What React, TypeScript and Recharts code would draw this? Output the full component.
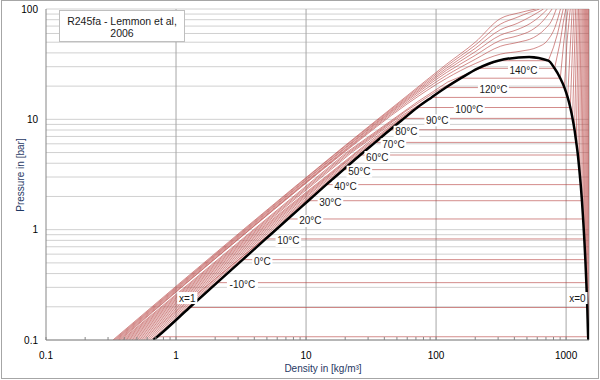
import React from "react";
import { LineChart, Line, XAxis, YAxis, CartesianGrid, ReferenceLine, ReferenceDot } from "recharts";

// R245fa saturation (bar, kg/m3)
const subTemps = [-30, -20, -10, 0, 10, 20, 30, 40, 50, 60, 70, 80, 90, 100, 110, 120, 130, 140, 150];
const satP = [0.107, 0.197, 0.331, 0.535, 0.824, 1.25, 1.83, 2.56, 3.5, 4.75, 6.18, 8.05, 10.2, 12.8, 15.8, 19.4, 23.6, 29.0, 34.0];
const satRhoV = [0.717, 1.27, 2.07, 3.26, 4.89, 7.24, 10.4, 14.3, 19.4, 26.1, 34.0, 44.3, 56.6, 71.8, 92.3, 119, 155, 210, 300];
const satRhoL = [1478, 1455, 1431, 1406, 1380, 1352, 1324, 1295, 1264, 1232, 1197, 1161, 1121, 1077, 1028, 971, 902, 815, 730];
// vapour density where each isotherm leaves the bottom (0.1 bar)
const vapRho0 = [0.663, 0.637, 0.613, 0.59, 0.569, 0.55, 0.532, 0.515, 0.499, 0.484, 0.47, 0.457, 0.444, 0.432, 0.421, 0.41, 0.4, 0.39, 0.381];
// liquid density where each isotherm leaves the top (100 bar)
const liqRho100 = [1498, 1477, 1455, 1432, 1408, 1383, 1357, 1331, 1304, 1276, 1246, 1216, 1184, 1150, 1114, 1076, 1036, 994, 950];
// extra [rho, p] points on the vapour / liquid branches
const vapMid: number[][][] = [
  [], [], [], [], [], [],
  [[5.73, 1]],
  [[5.51, 1]],
  [[5.31, 1]],
  [[5.12, 1]],
  [[4.95, 1], [12.2, 2.38]],
  [[4.79, 1], [15.6, 3.09]],
  [[4.65, 1], [19.9, 4.0]],
  [[4.51, 1], [25.2, 5.1]],
  [[4.39, 1], [31.3, 6.4]],
  [[4.27, 1], [22.4, 5], [38.4, 7.9]],
  [[4.16, 1], [21.7, 5], [47.4, 9.7]],
  [[4.05, 1], [21.05, 5], [58.3, 11.8], [98.3, 17.7]],
  [[3.95, 1], [20.43, 5], [72.5, 14.5], [123, 21.8]],
  [[3.85, 1], [19.9, 5], [87.5, 17.0], [157, 25.5], [220, 30.5]],
];
const liqMid: number[][][] = [
  [], [], [], [], [], [], [], [], [], [], [], [], [], [], [],
  [[1015, 50]],
  [[960, 50], [1000, 75]],
  [[900, 50], [950, 75]],
  [[800, 45], [860, 60], [910, 80]],
];

// supercritical isotherms 160..220 °C
const superTemps = [160, 170, 180, 190, 200, 210, 220];
const superRho = [
  [0.372, 3.7, 20, 60, 120, 200, 313, 450, 600, 720, 820, 905],
  [0.364, 3.66, 20, 60, 120, 200, 313, 430, 560, 680, 780, 840],
  [0.356, 3.58, 20, 60, 120, 200, 313, 420, 540, 650, 780],
  [0.348, 3.5, 20, 60, 120, 200, 313, 420, 530, 630, 720],
  [0.341, 3.43, 20, 60, 120, 200, 313, 420, 540, 670],
  [0.334, 3.36, 20, 60, 120, 200, 313, 420, 520, 625],
  [0.327, 3.29, 20, 60, 120, 200, 313, 430, 585],
];
const superP = [
  [0.1, 1, 5.1, 13.8, 23.5, 32, 39, 41.5, 45, 52, 68, 100],
  [0.1, 1, 5.2, 14.3, 25, 35, 46, 50, 55, 65, 80, 100],
  [0.1, 1, 5.3, 14.8, 26.5, 38, 52, 57, 64, 76, 100],
  [0.1, 1, 5.45, 15.2, 27.8, 41, 58, 65, 74, 86, 100],
  [0.1, 1, 5.55, 15.6, 29, 44, 65, 74, 86, 100],
  [0.1, 1, 5.7, 16, 30.3, 47, 73, 84, 93, 100],
  [0.1, 1, 5.8, 16.4, 31.5, 50, 82, 92, 100],
];

// dome ends and critical point
const domeVapEnd = 0.668;
const domeLiqEnd = 1484;
const critRho = 520;
const critP = 36.8;

// isotherm tags
const tagText = ["-10°C", "0°C", "10°C", "20°C", "30°C", "40°C", "50°C", "60°C", "70°C", "80°C", "90°C", "100°C", "120°C", "140°C"];
const tagRho = [3.24, 4.61, 7.31, 10.8, 15.4, 20.1, 25.7, 35.3, 47.0, 59.1, 102, 180, 276, 470];
const tagP = [0.331, 0.535, 0.824, 1.25, 1.83, 2.56, 3.5, 4.75, 6.18, 8.05, 10.2, 12.8, 19.4, 29.0];
const qualityText = ["x=1", "x=0"];
const qualityRho = [1.22, 1222];
const qualityP = [0.24, 0.24];

const xMajor = [0.1, 1, 10, 100, 1000];
const xTicks = [0.1, 0.2, 0.3, 0.4, 0.5, 0.6, 0.7, 0.8, 0.9, 1, 2, 3, 4, 5, 6, 7, 8, 9, 10, 20, 30, 40, 50, 60, 70, 80, 90, 100, 200, 300, 400, 500, 600, 700, 800, 900, 1000];
const yMajor = [0.1, 1, 10, 100];
const yTicks = [0.1, 0.2, 0.3, 0.4, 0.5, 0.6, 0.7, 0.8, 0.9, 1, 2, 3, 4, 5, 6, 7, 8, 9, 10, 20, 30, 40, 50, 60, 70, 80, 90, 100];

const FONT = "'Liberation Sans', Arial, sans-serif";
const ISO = "#b5403d";
const AXIS = "#868686";
const TITLE = "#1f3864";

type Pt = { rho: number; p: number };
const toPts = (list: number[][]): Pt[] => list.map(([rho, p]) => ({ rho, p }));

const subIsotherms: Pt[][] = subTemps.map((_, i) => [
  { rho: vapRho0[i], p: 0.1 },
  ...toPts(vapMid[i]),
  { rho: satRhoV[i], p: satP[i] },
  { rho: satRhoL[i], p: satP[i] },
  ...toPts(liqMid[i]),
  { rho: liqRho100[i], p: 100 },
]);

const superIsotherms: Pt[][] = superTemps.map((_, i) => superRho[i].map((rho, j) => ({ rho, p: superP[i][j] })));

const dome: Pt[] = [
  { rho: domeVapEnd, p: 0.1 },
  ...satRhoV.map((rho, i) => ({ rho, p: satP[i] })),
  { rho: critRho, p: critP },
  ...satRhoL.map((rho, i) => ({ rho, p: satP[i] })).reverse(),
  { rho: domeLiqEnd, p: 0.1 },
];

function Tag({ cx, cy, text, dy = 0 }: { cx: number; cy: number; text: string; dy?: number }) {
  const w = text.length * 5.4 + 4;
  return (
    <g>
      <rect x={cx - w / 2} y={cy + dy - 6} width={w} height={12} fill="#fff" />
      <text x={cx} y={cy + dy} textAnchor="middle" dominantBaseline="central" fontSize={10} fontFamily={FONT} fill="#1a1a1a">
        {text}
      </text>
    </g>
  );
}

const TICK_SIZE = 6;
const TICK_MARGIN = 6;

function XTick(props: any) {
  const { x, y, payload } = props;
  const axisY = y - TICK_SIZE - TICK_MARGIN;
  const major = xMajor.includes(payload.value);
  return (
    <g>
      <line x1={x} x2={x} y1={axisY} y2={axisY - 3} stroke={AXIS} strokeWidth={1} />
      {major && (
        <text x={x} y={y} dy="0.71em" textAnchor="middle" fontSize={10} fontFamily={FONT} fill="#000">
          {String(payload.value)}
        </text>
      )}
    </g>
  );
}

export default function App() {
  return (
    <div style={{ position: "absolute", left: 0, top: 0, width: 600, height: 380, background: "#fff", fontFamily: FONT }}>
      <LineChart width={600} height={380} margin={{ top: 9, right: 11, bottom: 0, left: 0 }}>
        <CartesianGrid horizontal vertical={false} stroke="#d0d0d0" />
        <XAxis
          dataKey="rho"
          type="number"
          scale="log"
          domain={[0.1, 1500]}
          allowDataOverflow
          ticks={xTicks}
          interval={0}
          height={40}
          tickSize={TICK_SIZE}
          tickMargin={TICK_MARGIN}
          tickLine={false}
          axisLine={{ stroke: AXIS }}
          tick={<XTick />}
        />
        <YAxis
          dataKey="p"
          type="number"
          scale="log"
          domain={[0.1, 100]}
          allowDataOverflow
          ticks={yTicks}
          interval={0}
          width={46}
          tickLine={false}
          axisLine={{ stroke: AXIS }}
          tick={{ fontSize: 10, fill: "#000", fontFamily: FONT }}
          tickFormatter={(v: number) => (yMajor.includes(v) ? String(v) : "")}
        />
        {[1, 10, 100, 1000, 1500].map((v) => (
          <ReferenceLine key={v} x={v} stroke="#a6a6a6" strokeWidth={1} />
        ))}
        {subIsotherms.map((pts, i) => (
          <Line
            key={"t" + subTemps[i]}
            data={pts}
            dataKey="p"
            type="linear"
            stroke={ISO}
            strokeWidth={1}
            strokeOpacity={0.6}
            dot={false}
            activeDot={false}
            isAnimationActive={false}
          />
        ))}
        {superIsotherms.map((pts, i) => (
          <Line
            key={"s" + superTemps[i]}
            data={pts}
            dataKey="p"
            type="monotoneX"
            stroke={ISO}
            strokeWidth={1}
            strokeOpacity={0.6}
            dot={false}
            activeDot={false}
            isAnimationActive={false}
          />
        ))}
        <Line
          data={dome}
          dataKey="p"
          type="monotoneX"
          stroke="#000"
          strokeWidth={2.5}
          dot={false}
          activeDot={false}
          isAnimationActive={false}
        />
        {tagText.map((t, i) => (
          <ReferenceDot
            key={t}
            x={tagRho[i]}
            y={tagP[i]}
            r={0}
            shape={(p: any) => <Tag cx={p.cx} cy={p.cy} text={t} dy={2} />}
          />
        ))}
        {qualityText.map((t, i) => (
          <ReferenceDot
            key={t}
            x={qualityRho[i]}
            y={qualityP[i]}
            r={0}
            shape={(p: any) => <Tag cx={p.cx} cy={p.cy} text={t} />}
          />
        ))}
      </LineChart>

      <div
        style={{
          position: "absolute",
          left: 59,
          top: 10,
          width: 126,
          height: 32,
          border: "1px solid #bfbfbf",
          background: "#fff",
          fontSize: 10.5,
          lineHeight: "12px",
          textAlign: "center",
          color: "#1a1a1a",
          paddingTop: 4,
          boxSizing: "border-box",
        }}
      >
        R245fa - Lemmon et al,
        <br />
        2006
      </div>

      <div
        style={{
          position: "absolute",
          left: 20,
          top: 175,
          transform: "translate(-50%, -50%) rotate(-90deg)",
          whiteSpace: "nowrap",
          fontSize: 10,
          color: TITLE,
        }}
      >
        Pressure in [bar]
      </div>
      <div
        style={{
          position: "absolute",
          left: 323,
          top: 368,
          transform: "translate(-50%, -50%)",
          whiteSpace: "nowrap",
          fontSize: 10,
          color: TITLE,
        }}
      >
        Density in [kg/m³]
      </div>

      <div
        style={{
          position: "absolute",
          left: 1,
          top: 0,
          width: 598,
          height: 379,
          border: "1px solid #a6a6a6",
          boxSizing: "border-box",
          pointerEvents: "none",
        }}
      />
    </div>
  );
}
